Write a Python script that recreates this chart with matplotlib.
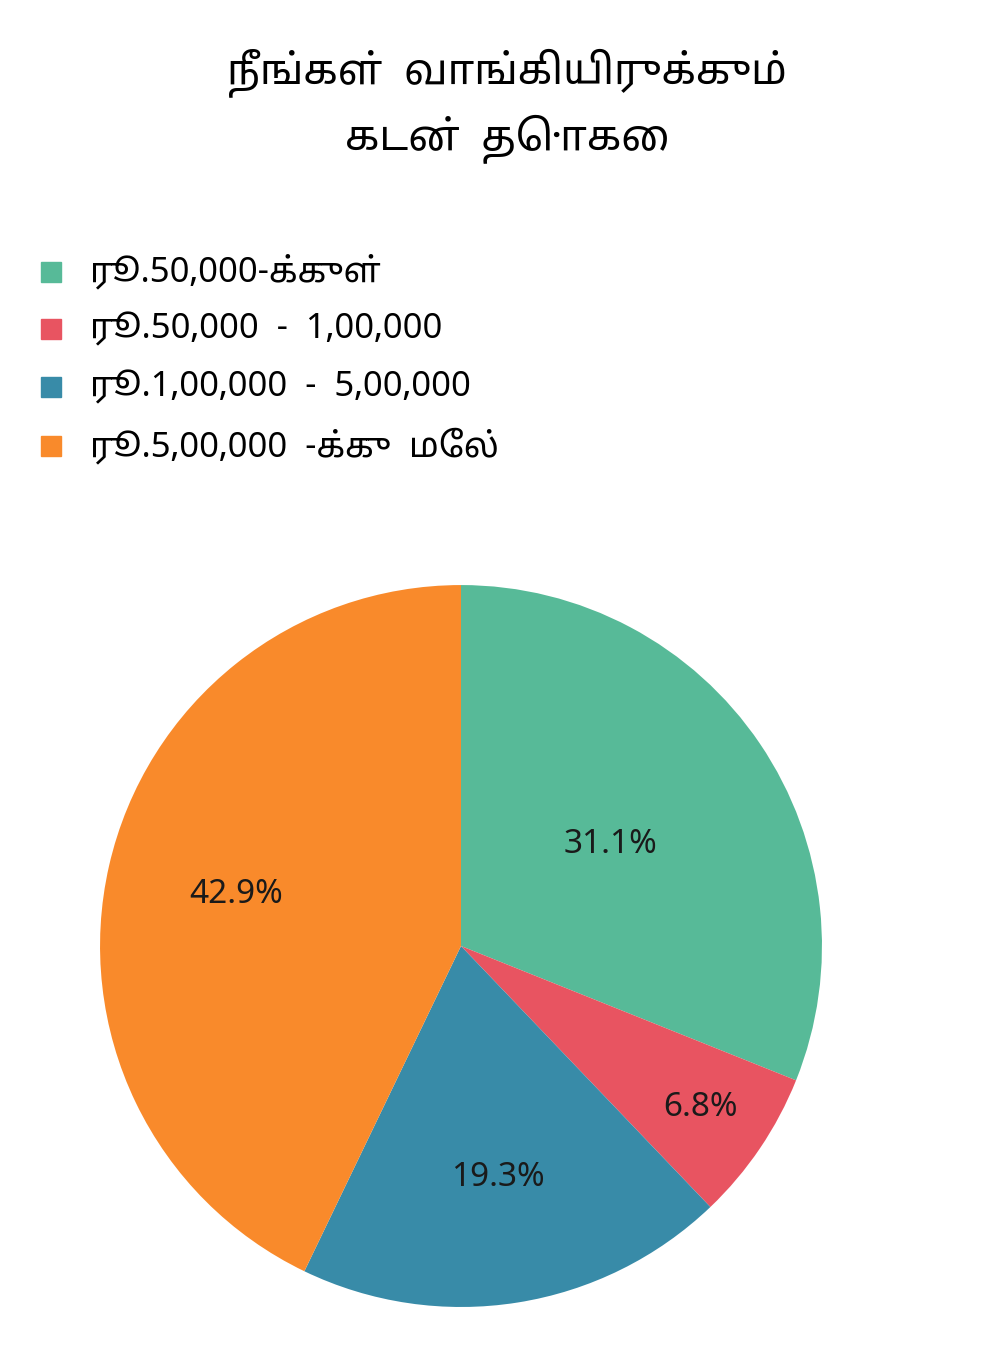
import matplotlib
matplotlib.use("Agg")
import matplotlib.pyplot as plt
import numpy as np

categories = ["ரூ.50,000-க்குள்", "ரூ.50,000  -  1,00,000", "ரூ.1,00,000  -  5,00,000", "ரூ.5,00,000  -க்கு  மேல்"]
values = [31.1, 6.8, 19.3, 42.9]
colors = ["#57BA98", "#E85461", "#388BA8", "#F98A2B"]
label_dist = [0.50, 0.80, 0.65, 0.64]
title = "நீங்கள்  வாங்கியிருக்கும்\nகடன்  தொகை"

fonts = ["Noto Sans Tamil", "Lohit Tamil", "Noto Sans", "DejaVu Sans"]
plt.rcParams["font.family"] = fonts

fig = plt.figure(figsize=(10, 13.66), dpi=100)
fig.text(0.507, 0.922, title, ha="center", va="center", fontsize=30, fontweight="bold", linespacing=1.5)

ys = [1 - 272/1366, 1 - 329/1366, 1 - 387/1366, 1 - 446/1366]
for y, c, lab in zip(ys, colors, categories):
    fig.patches.append(plt.Rectangle((0.041, y - 0.007), 0.02, 0.0146, color=c, transform=fig.transFigure))
    fig.text(0.09, y, lab, va="center", ha="left", fontsize=25)

ax = fig.add_axes([0.1, 0.0432, 0.722, 0.5285])
wedges, _ = ax.pie(values, colors=colors, startangle=90, counterclock=False, radius=1.0)
for w, v, d in zip(wedges, values, label_dist):
    ang = np.deg2rad((w.theta1 + w.theta2) / 2)
    ax.text(d*np.cos(ang), d*np.sin(ang), f"{v}%", ha="center", va="center", fontsize=24, fontweight="bold", color="#1a1a1a")
ax.set_xlim(-1, 1); ax.set_ylim(-1, 1)
ax.set_aspect("equal")
ax.axis("off")
fig.savefig("out.png", dpi=100, facecolor="white")
